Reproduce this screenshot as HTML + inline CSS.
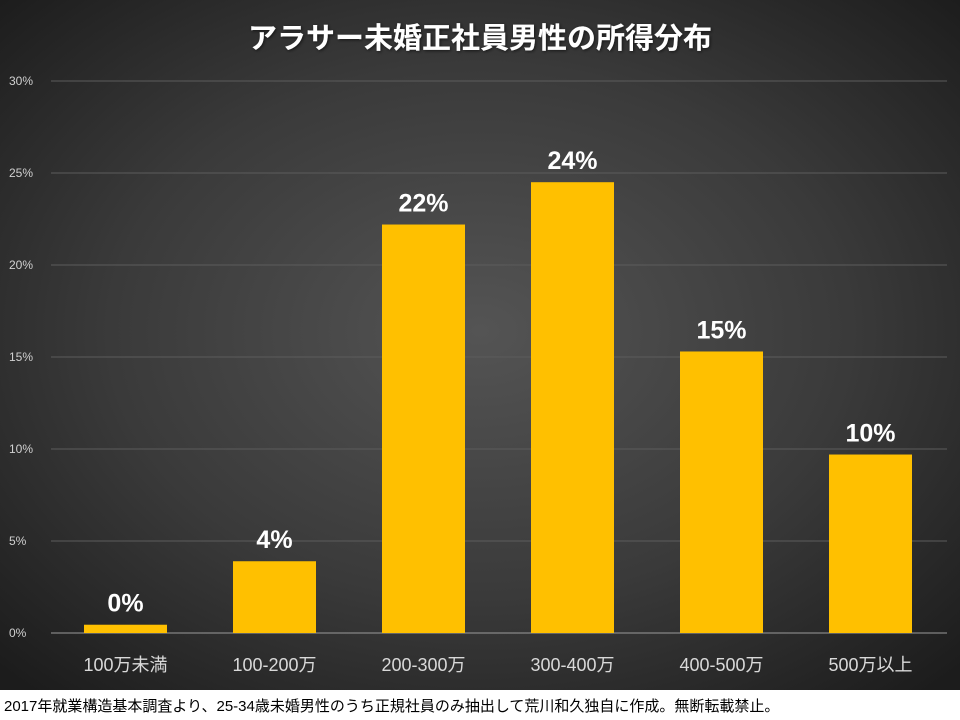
<!DOCTYPE html>
<html><head><meta charset="utf-8">
<style>
html,body{margin:0;padding:0;width:960px;height:720px;overflow:hidden;background:#fff}
svg{display:block}
text{font-family:"Liberation Sans","Noto Sans CJK JP",sans-serif}
</style></head>
<body>
<svg id="chart" width="960" height="720" viewBox="0 0 960 720">
<defs>
<radialGradient id="bg" cx="50%" cy="48%" r="70%">
<stop offset="0" stop-color="#545454"/>
<stop offset="0.55" stop-color="#3a3a3a"/>
<stop offset="1" stop-color="#1c1c1c"/>
</radialGradient>
<filter id="sh" x="-10%" y="-10%" width="130%" height="130%">
<feDropShadow dx="1" dy="1" stdDeviation="1.5" flood-color="#000" flood-opacity="0.6"/>
</filter>
</defs>
<rect x="0" y="0" width="960" height="690" fill="url(#bg)"/>
<rect x="0" y="690" width="960" height="30" fill="#fff"/>
<text x="480" y="48" text-anchor="middle" font-size="29" font-weight="bold" fill="#fff" filter="url(#sh)">アラサー未婚正社員男性の所得分布</text>
<g id="grid"></g>
<g id="bars"></g>
<text x="4" y="711" font-size="15" fill="#000">2017年就業構造基本調査より、25-34歳未婚男性のうち正規社員のみ抽出して荒川和久独自に作成。無断転載禁止。</text>
</svg>
<script>
const categories = ["100万未満","100-200万","200-300万","300-400万","400-500万","500万以上"];
const values = [0.45, 3.9, 22.2, 24.5, 15.3, 9.7];
const valueLabels = ["0%","4%","22%","24%","15%","10%"];
const ticks = [0,5,10,15,20,25,30];
const tickLabels = ["0%","5%","10%","15%","20%","25%","30%"];

const NS="http://www.w3.org/2000/svg";
const X0=51, X1=945, Y0=633, Y1=81, YMAX=30;
const band=(X1-X0)/categories.length, barW=83;
function y(v){return Y0-(v/YMAX)*(Y0-Y1);}
function xc(i){return X0+band*(i+0.5);}
function mk(tag,attrs,parent){const e=document.createElementNS(NS,tag);for(const k in attrs)e.setAttribute(k,attrs[k]);parent.appendChild(e);return e;}
const grid=document.getElementById('grid'), bars=document.getElementById('bars');
ticks.forEach((t,i)=>{
  const l=mk('line',{x1:X0,x2:X1+2,y1:y(t),y2:y(t),stroke:t===0?'#9a9a9a':'#5c5c5c','stroke-width':1},grid);
  
  
  const tx=mk('text',{x:9,y:y(t)+4,'font-size':12,fill:'#d0d0d0'},grid);
  tx.textContent=tickLabels[i];
  
  
});
categories.forEach((c,i)=>{
  const top=y(values[i]);
  const r=mk('rect',{x:xc(i)-barW/2,y:top,width:barW,height:Y0-top,fill:'#FFC000'},bars);
  
  
  const vl=mk('text',{x:xc(i),y:top-13,'text-anchor':'middle','font-size':25,'font-weight':'bold',fill:'#fff'},bars);
  vl.textContent=valueLabels[i];
  
  
  const cl=mk('text',{x:xc(i),y:671,'text-anchor':'middle','font-size':18,fill:'#d9d9d9'},bars);
  cl.textContent=c;
  
  
});
</script>
</body></html>
